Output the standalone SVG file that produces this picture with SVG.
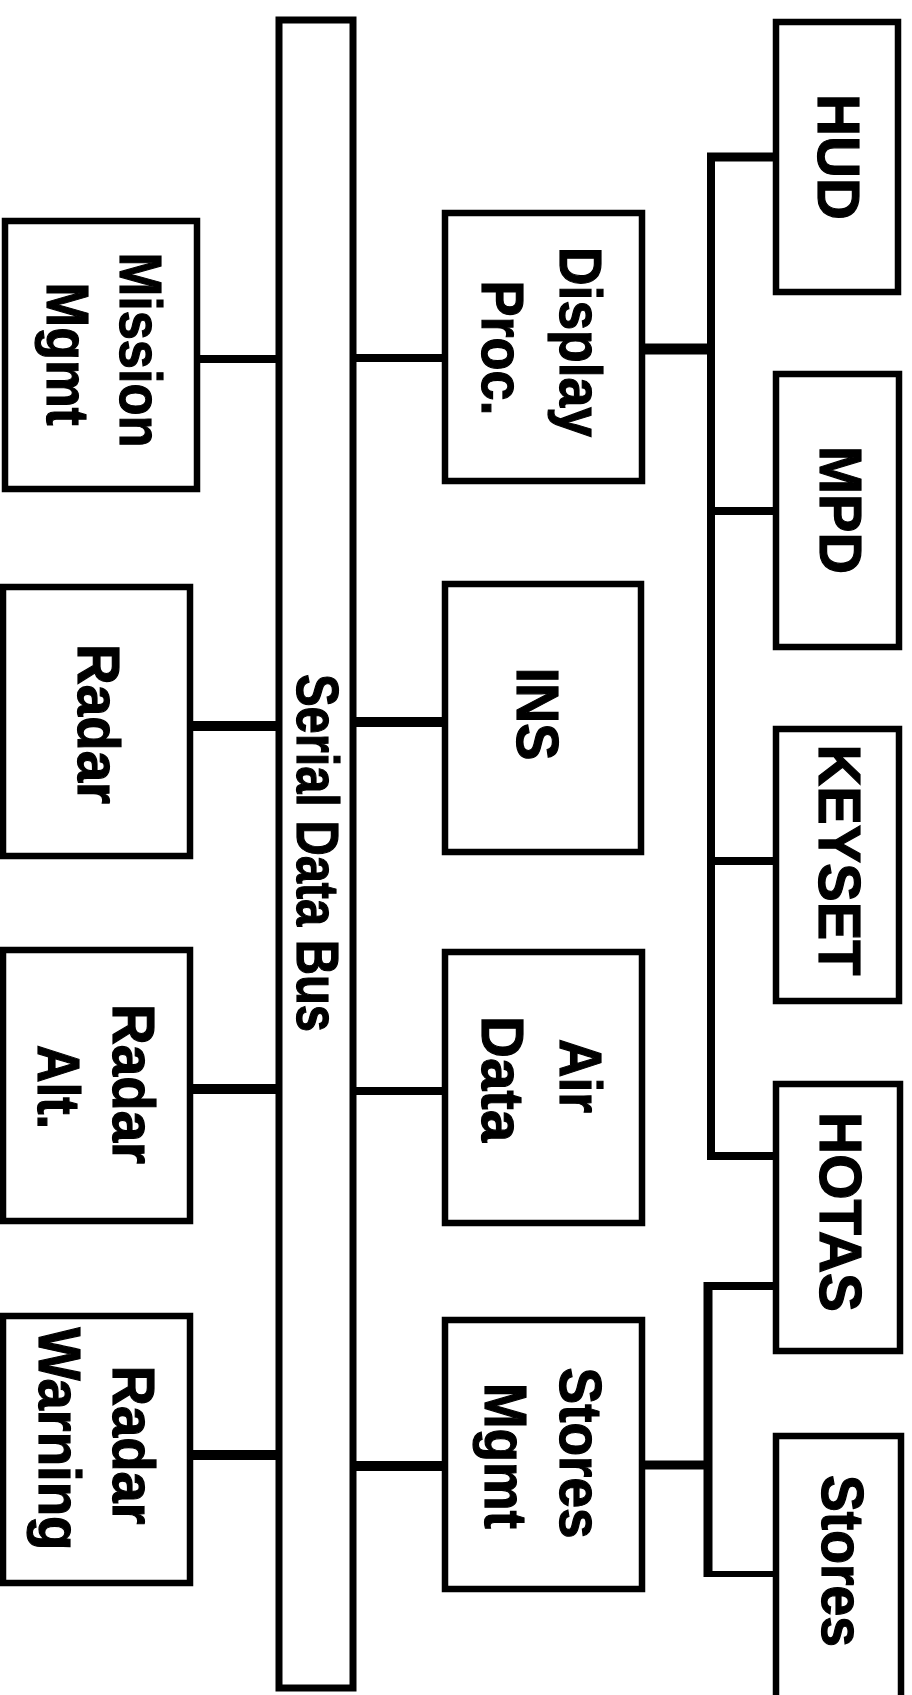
<svg xmlns="http://www.w3.org/2000/svg" width="912" height="1695" viewBox="0 0 912 1695">
<style>
.box{fill:#fff;stroke:#000;stroke-width:6.5}
.bus{fill:#fff;stroke:#000;stroke-width:7}
.c line{stroke:#000;stroke-linecap:butt}
text{font-family:"Liberation Sans",Arial,Helvetica,sans-serif;font-weight:bold;font-size:60px;fill:#000;stroke:#000;stroke-width:1.2;text-anchor:middle}
</style>
<rect width="912" height="1695" fill="#fff"/>
<g id="connectors" class="c">
<line x1="197" y1="359" x2="279" y2="359" stroke-width="8"/>
<line x1="353" y1="358" x2="445" y2="358" stroke-width="8"/>
<line x1="190" y1="726" x2="279" y2="726" stroke-width="10"/>
<line x1="353" y1="722" x2="445" y2="722" stroke-width="10"/>
<line x1="190" y1="1089" x2="279" y2="1089" stroke-width="10"/>
<line x1="353" y1="1091" x2="445" y2="1091" stroke-width="8"/>
<line x1="190" y1="1455" x2="279" y2="1455" stroke-width="10"/>
<line x1="353" y1="1466" x2="445" y2="1466" stroke-width="10"/>
<line x1="642" y1="349" x2="711" y2="349" stroke-width="11"/>
<line x1="711" y1="153" x2="711" y2="1160" stroke-width="8"/>
<line x1="707" y1="157" x2="776" y2="157" stroke-width="9"/>
<line x1="711" y1="511" x2="776" y2="511" stroke-width="8"/>
<line x1="711" y1="861" x2="776" y2="861" stroke-width="8"/>
<line x1="707" y1="1156" x2="776" y2="1156" stroke-width="8"/>
<line x1="642" y1="1465" x2="708" y2="1465" stroke-width="9"/>
<line x1="708" y1="1282" x2="708" y2="1577" stroke-width="9"/>
<line x1="704" y1="1286" x2="776" y2="1286" stroke-width="8"/>
<line x1="704" y1="1574" x2="776" y2="1574" stroke-width="6"/>
</g>
<g id="bus">
<rect class="bus" x="279" y="20" width="74" height="1668"/>
<text transform="translate(297,853) rotate(90)" textLength="358" lengthAdjust="spacingAndGlyphs">Serial Data Bus</text>
</g>
<g id="mission-mgmt">
<rect class="box" x="5" y="221" width="192" height="268"/>
<text transform="translate(120,350) rotate(90)" textLength="195" lengthAdjust="spacingAndGlyphs">Mission</text>
<text transform="translate(47,354) rotate(90)" textLength="143" lengthAdjust="spacingAndGlyphs">Mgmt</text>
</g>
<g id="radar">
<rect class="box" x="3" y="587" width="187" height="269"/>
<text transform="translate(78,724) rotate(90)" textLength="160" lengthAdjust="spacingAndGlyphs">Radar</text>
</g>
<g id="radar-alt">
<rect class="box" x="3" y="950" width="187" height="271"/>
<text transform="translate(113,1084) rotate(90)" textLength="160" lengthAdjust="spacingAndGlyphs">Radar</text>
<text transform="translate(38,1087) rotate(90)" textLength="84" lengthAdjust="spacingAndGlyphs">Alt.</text>
</g>
<g id="radar-warning">
<rect class="box" x="3" y="1316" width="187" height="267"/>
<text transform="translate(113,1445) rotate(90)" textLength="159" lengthAdjust="spacingAndGlyphs">Radar</text>
<text transform="translate(39,1439) rotate(90)" textLength="223" lengthAdjust="spacingAndGlyphs">Warning</text>
</g>
<g id="display-proc">
<rect class="box" x="445" y="213" width="197" height="268"/>
<text transform="translate(560,342) rotate(90)" textLength="190" lengthAdjust="spacingAndGlyphs">Display</text>
<text transform="translate(482,348) rotate(90)" textLength="135" lengthAdjust="spacingAndGlyphs">Proc.</text>
</g>
<g id="ins">
<rect class="box" x="445" y="584" width="196" height="268"/>
<text transform="translate(517,714) rotate(90)" textLength="93" lengthAdjust="spacingAndGlyphs">INS</text>
</g>
<g id="air-data">
<rect class="box" x="445" y="952" width="197" height="271"/>
<text transform="translate(560,1076) rotate(90)" textLength="74" lengthAdjust="spacingAndGlyphs">Air</text>
<text transform="translate(482,1079) rotate(90)" textLength="126" lengthAdjust="spacingAndGlyphs">Data</text>
</g>
<g id="stores-mgmt">
<rect class="box" x="445" y="1320" width="197" height="269"/>
<text transform="translate(560,1453) rotate(90)" textLength="171" lengthAdjust="spacingAndGlyphs">Stores</text>
<text transform="translate(485,1456) rotate(90)" textLength="146" lengthAdjust="spacingAndGlyphs">Mgmt</text>
</g>
<g id="hud">
<rect class="box" x="776" y="22" width="122" height="270"/>
<text transform="translate(818,157) rotate(90)" textLength="126" lengthAdjust="spacingAndGlyphs">HUD</text>
</g>
<g id="mpd">
<rect class="box" x="776" y="374" width="123" height="273"/>
<text transform="translate(820,510) rotate(90)" textLength="128" lengthAdjust="spacingAndGlyphs">MPD</text>
</g>
<g id="keyset">
<rect class="box" x="776" y="729" width="123" height="272"/>
<text transform="translate(819,860) rotate(90)" textLength="231" lengthAdjust="spacingAndGlyphs">KEYSET</text>
</g>
<g id="hotas">
<rect class="box" x="776" y="1084" width="124" height="267"/>
<text transform="translate(820,1212) rotate(90)" textLength="200" lengthAdjust="spacingAndGlyphs">HOTAS</text>
</g>
<g id="stores">
<rect class="box" x="776" y="1436" width="125" height="280"/>
<text transform="translate(822,1561) rotate(90)" textLength="172" lengthAdjust="spacingAndGlyphs">Stores</text>
</g>
</svg>
